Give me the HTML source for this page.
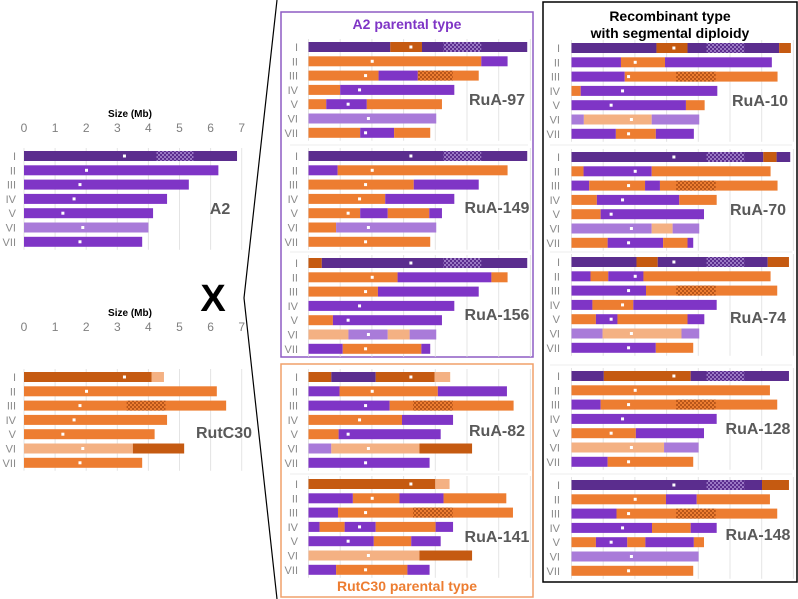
<!DOCTYPE html>
<html><head><meta charset="utf-8">
<style>
html,body{margin:0;padding:0;background:#fff;}
svg{display:block;font-family:"Liberation Sans",sans-serif;}
</style></head>
<body>
<svg id="fig" width="798" height="599" viewBox="0 0 798 599" xmlns="http://www.w3.org/2000/svg">
<defs>
<pattern id="hatchD" width="4" height="4" patternUnits="userSpaceOnUse">
<rect width="4" height="4" fill="#5b2d8e"/><rect width="2" height="2" fill="#9a78c4"/><rect x="2" y="2" width="2" height="2" fill="#9a78c4"/>
</pattern>
<pattern id="hatchO" width="4" height="4" patternUnits="userSpaceOnUse">
<rect width="4" height="4" fill="#ed7d31"/><rect width="2" height="2" fill="#b8561a"/><rect x="2" y="2" width="2" height="2" fill="#b8561a"/>
</pattern>
</defs>
<g id="frame"></g>
<g id="plots"></g>
</svg>
<script>
// colors
const COL={D:"#5b2d8e",P:"#7f35c6",L:"#a97bd9",O:"#ed7d31",R:"#c55a11",T:"#f4b183"};
const romans=["I","II","III","IV","V","VI","VII"];
const centromeres=[3.23,2.01,1.8,1.61,1.25,1.89,1.8];
const ticks=[0,1,2,3,4,5,6,7];
// segments: [end Mb, color code]
const segA2=[[[6.85,"D"]],[[6.25,"P"]],[[5.3,"P"]],[[4.6,"P"]],[[4.15,"P"]],[[4.0,"L"]],[[3.8,"P"]]];
const segRutC30=[[[4.1,"R"],[4.5,"T"]],[[6.2,"O"]],[[6.5,"O"]],[[4.6,"O"]],[[4.2,"O"]],[[3.5,"T"],[5.15,"R"]],[[3.8,"O"]]];
const segRuA97=[[[2.58,"D"],[3.58,"R"],[6.9,"D"]],[[5.45,"O"],[6.28,"P"]],[[2.21,"O"],[3.45,"P"],[5.37,"O"]],[[1.0,"O"],[4.6,"P"]],[[0.56,"O"],[1.84,"P"],[4.21,"O"]],[[4.03,"L"]],[[1.63,"O"],[2.7,"P"],[3.84,"O"]]];
const segRuA149=[[[6.9,"D"]],[[0.92,"P"],[6.28,"O"]],[[3.32,"O"],[5.37,"P"]],[[2.42,"O"],[4.6,"P"]],[[1.63,"O"],[2.5,"P"],[3.81,"O"],[4.21,"P"]],[[0.87,"O"],[4.03,"L"]],[[3.84,"O"]]];
const segRuA156=[[[0.42,"R"],[6.9,"D"]],[[2.81,"O"],[5.77,"P"],[6.28,"O"]],[[2.19,"O"],[5.37,"P"]],[[4.6,"P"]],[[0.77,"O"],[4.21,"P"]],[[1.26,"T"],[2.5,"L"],[3.19,"T"],[4.03,"L"]],[[1.08,"P"],[3.56,"O"],[3.84,"P"]]];
const segRuA82=[[[0.72,"R"],[2.12,"D"],[3.98,"R"],[4.47,"T"]],[[0.98,"P"],[4.08,"O"],[6.26,"P"]],[[2.56,"P"],[6.47,"O"]],[[2.95,"O"],[4.56,"P"]],[[0.95,"O"],[4.17,"P"]],[[0.72,"L"],[3.5,"T"],[5.16,"R"]],[[3.82,"P"]]];
const segRuA141=[[[4.0,"R"],[4.45,"T"]],[[1.4,"P"],[2.87,"O"],[4.26,"P"],[6.24,"O"]],[[0.93,"P"],[6.45,"O"]],[[0.35,"P"],[1.14,"O"],[2.12,"P"],[4.01,"O"],[4.56,"P"]],[[2.06,"P"],[3.24,"O"],[4.17,"P"]],[[3.5,"T"],[5.16,"R"]],[[0.87,"P"],[3.12,"O"],[3.82,"P"]]];
const segRuA10=[[[2.68,"D"],[3.66,"R"],[6.55,"D"],[6.92,"R"]],[[1.56,"P"],[2.95,"O"],[6.32,"P"]],[[1.68,"P"],[6.5,"O"]],[[0.29,"O"],[4.6,"P"]],[[3.61,"P"],[4.2,"O"]],[[0.39,"L"],[2.53,"T"],[4.03,"L"]],[[1.4,"P"],[2.66,"O"],[3.86,"P"]]];
const segRuA70=[[[6.05,"D"],[6.47,"R"],[6.9,"D"]],[[0.38,"O"],[2.53,"P"],[6.28,"O"]],[[0.56,"P"],[2.32,"O"],[2.79,"P"],[6.5,"O"]],[[0.8,"O"],[3.4,"P"],[4.58,"O"]],[[0.92,"O"],[4.18,"P"]],[[2.53,"L"],[3.19,"T"],[4.03,"L"]],[[1.14,"O"],[2.89,"P"],[3.66,"O"],[3.84,"P"]]];
const segRuA74=[[[2.05,"D"],[2.72,"R"],[6.19,"D"],[6.86,"R"]],[[0.6,"P"],[1.16,"O"],[2.27,"P"],[6.28,"O"]],[[2.35,"P"],[6.49,"O"]],[[0.66,"P"],[1.95,"O"],[4.58,"P"]],[[0.77,"O"],[1.45,"P"],[3.66,"O"],[4.19,"P"]],[[0.98,"L"],[3.47,"T"],[4.03,"L"]],[[2.66,"P"],[3.84,"O"]]];
const segRuA128=[[[1.02,"D"],[3.76,"R"],[6.86,"D"]],[[6.26,"O"]],[[0.92,"P"],[6.49,"O"]],[[4.58,"P"]],[[2.03,"O"],[4.18,"P"]],[[2.92,"T"],[4.01,"L"]],[[1.14,"P"],[3.84,"O"]]];
const segRuA148=[[[6.01,"D"],[6.86,"R"]],[[2.98,"O"],[3.95,"P"],[6.26,"O"]],[[1.42,"P"],[6.49,"O"]],[[2.54,"P"],[3.76,"O"],[4.58,"P"]],[[0.77,"O"],[1.76,"P"],[2.33,"O"],[3.86,"P"],[4.18,"O"]],[[4.01,"L"]],[[3.84,"O"]]];

const NS="http://www.w3.org/2000/svg";
const plots=document.getElementById("plots");
const frame=document.getElementById("frame");
function mk(tag,attrs,parent){const e=document.createElementNS(NS,tag);for(const k in attrs)e.setAttribute(k,attrs[k]);(parent||plots).appendChild(e);return e;}
function txt(s,attrs,parent){const e=mk("text",attrs,parent);e.textContent=s;return e;}

const panels=[
 {name:"a2",seg:segA2,x0:24,sc:31.1,y0:156,label:"A2",lx:220,ly:214,axis:128,rl:16},
 {name:"rutc30",seg:segRutC30,x0:24,sc:31.1,y0:377,label:"RutC30",lx:224,ly:438,axis:327,rl:16},
 {name:"rua-97",seg:segRuA97,x0:308.5,sc:31.7,y0:47,label:"RuA-97",lx:497,ly:105,rl:298},
 {name:"rua-149",seg:segRuA149,x0:308.5,sc:31.7,y0:156,label:"RuA-149",lx:497,ly:213,rl:298},
 {name:"rua-156",seg:segRuA156,x0:308.5,sc:31.7,y0:263,label:"RuA-156",lx:497,ly:320,rl:298},
 {name:"rua-82",seg:segRuA82,x0:308.5,sc:31.7,y0:377,label:"RuA-82",lx:497,ly:436,rl:298},
 {name:"rua-141",seg:segRuA141,x0:308.5,sc:31.7,y0:484,label:"RuA-141",lx:497,ly:542,rl:298},
 {name:"rua-10",seg:segRuA10,x0:571.5,sc:31.7,y0:48,label:"RuA-10",lx:760,ly:106,rl:560},
 {name:"rua-70",seg:segRuA70,x0:571.5,sc:31.7,y0:157,label:"RuA-70",lx:758,ly:215,rl:560},
 {name:"rua-74",seg:segRuA74,x0:571.5,sc:31.7,y0:262,label:"RuA-74",lx:758,ly:323,rl:560},
 {name:"rua-128",seg:segRuA128,x0:571.5,sc:31.7,y0:376,label:"RuA-128",lx:758,ly:434,rl:560},
 {name:"rua-148",seg:segRuA148,x0:571.5,sc:31.7,y0:485,label:"RuA-148",lx:758,ly:540,rl:560}
];
const STEP=14.3,BH=10;

panels.forEach(p=>{
 const g=mk("g",{});
 
 
 const xs=v=>p.x0+v*p.sc;
 const ys=i=>p.y0+i*STEP;
 // gridlines
 ticks.forEach(t=>{
  const l=mk("line",{x1:xs(t),x2:xs(t),y1:ys(0)-8,y2:ys(6)+8,stroke:"#e4e4e4","stroke-width":1},g);
  
  
 });
 if(p.axis){
  ticks.forEach(t=>{
   const tl=txt(String(t),{x:xs(t),y:p.axis+4,"font-size":12,fill:"#7f7f7f","text-anchor":"middle"},g);
   
   
  });
  const at=txt("Size (Mb)",{x:130,y:p.axis-11,"font-size":10,"font-weight":"bold",fill:"#000","text-anchor":"middle"},g);
  
  
 }
 p.seg.forEach((row,i)=>{
  const rl=txt(romans[i],{x:p.rl,y:ys(i)+4,"font-size":11,fill:"#8a8a8a","text-anchor":"end"},g);
  
  
  let s=0;
  row.forEach(([e,c])=>{
   const r=mk("rect",{x:xs(s),y:ys(i)-BH/2,width:Math.max(0,xs(e)-xs(s)),height:BH,fill:COL[c]},g);
   
   
   // hatch regions
   if(i===0&&c==="D"&&s<=4.8&&e>=4.8){
    const a=Math.max(s,4.26),b=Math.min(e,5.45);
    const h=mk("rect",{x:xs(a),y:ys(i)-BH/2,width:xs(b)-xs(a),height:BH,fill:"url(#hatchD)"},g);
    
    
   }
   if(i===2&&c==="O"&&s<=4.0&&e>=4.0){
    const a=Math.max(s,3.3),b=Math.min(e,4.55);
    const h=mk("rect",{x:xs(a),y:ys(i)-BH/2,width:xs(b)-xs(a),height:BH,fill:"url(#hatchO)"},g);
    
    
   }
   s=e;
  });
  const d=mk("rect",{x:xs(centromeres[i])-1.5,y:ys(i)-1.5,width:3,height:3,fill:"#fff"},g);
  
  
 });
 const nl=txt(p.label,{x:p.lx,y:p.ly,"font-size":16,"font-weight":"bold",fill:"#595959","text-anchor":"middle"},g);
 
 
});

// frames
const f1=mk("rect",{x:281,y:12,width:252,height:345,fill:"none",stroke:"#8e5cc4","stroke-width":1.5},frame);


const f2=mk("rect",{x:281,y:364,width:252,height:233,fill:"none",stroke:"#f0a06a","stroke-width":1.5},frame);


const f3=mk("rect",{x:543,y:2,width:254,height:580,fill:"none",stroke:"#000","stroke-width":1.5},frame);


[[290,145,528],[290,252,528],[290,474,528],[550,145,792],[550,252,792],[550,365,792],[550,474,792]].forEach(([a,y,b])=>{
 const l=mk("line",{x1:a,x2:b,y1:y,y2:y,stroke:"#ececec","stroke-width":1},frame);
 
 
});
const zl=mk("polyline",{points:"277,0 244,298 277,599",fill:"none",stroke:"#000","stroke-width":1.2},frame);


const t1=txt("A2 parental type",{x:407,y:29,"font-size":14,"font-weight":"bold",fill:"#7f35c6","text-anchor":"middle"},frame);


const t2=txt("RutC30 parental type",{x:407,y:591,"font-size":14,"font-weight":"bold",fill:"#ed7d31","text-anchor":"middle"},frame);


const t3=txt("Recombinant type",{x:670,y:21,"font-size":14,"font-weight":"bold",fill:"#000","text-anchor":"middle"},frame);


const t4=txt("with segmental diploidy",{x:670,y:38,"font-size":14,"font-weight":"bold",fill:"#000","text-anchor":"middle"},frame);


const xx=txt("X",{x:213,y:311,"font-size":38,"font-weight":"bold",fill:"#000","text-anchor":"middle"},frame);


</script>
</body></html>
